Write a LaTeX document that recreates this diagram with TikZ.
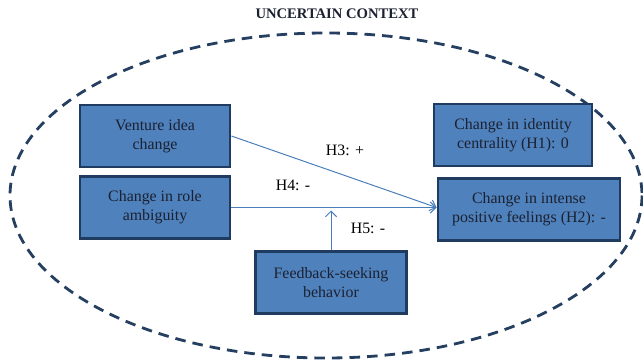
\documentclass[tikz,border=0pt]{standalone}
\usepackage{fontspec}
\setmainfont{Liberation Serif}
\usetikzlibrary{positioning,calc,arrows.meta}
\definecolor{boxblue}{HTML}{4F81BD}
\definecolor{boxedge}{HTML}{1F3B5F}
\definecolor{linkblue}{HTML}{4A7EBB}
\definecolor{ctxnavy}{HTML}{243F60}
\definecolor{ink}{HTML}{1B2130}

\begin{document}
\begin{tikzpicture}[x=0.025cm,y=-0.025cm,font=\fontsize{11.3}{13.5}\selectfont,
  box/.style={draw=boxedge,fill=boxblue,line width=2pt,text=ink,align=center,inner sep=0pt,minimum height=1.55cm},
  link/.style={linkblue,line width=0.7pt,-{Straight Barb[length=4pt,width=8pt]}}]
  \useasboundingbox (0,0) rectangle (643,360);
  % context
  \node[font=\bfseries\fontsize{10.4}{12}\selectfont,text=ink] (title) at (337,14) {UNCERTAIN CONTEXT};
  \draw[ctxnavy,line width=2pt,dash pattern=on 7.5pt off 5pt] (326,195.5) ellipse [x radius=316, y radius=162.5];
  % predictors
  \node[box,minimum width=3.75cm] (venture) at (155,136) {Venture idea\\change};
  \node[box,minimum width=3.75cm] (role) at (155,207.5) {Change in role\\ambiguity};
  \node[box,minimum width=3.78cm] (feedback) at (331,282.5) {Feedback-seeking\\behavior};
  % outcomes
  \node[box,minimum width=3.95cm] (identity) at (513,135) {Change in identity\\centrality (H1): 0};
  \node[box,minimum width=4.55cm] (feelings) at (529,209.5) {Change in intense\\positive feelings (H2): -};
  % hypotheses
  \coordinate (hit) at (role.east -| feelings.west);
  \draw[link] (venture.east) -- (hit);
  \draw[link] (role.east) -- (hit);
  \draw[link] (feedback.north) -- ($(feedback.north |- role.east)+(0,3)$);
  \node (h3) at (345,150) {H3: +};
  \node (h4) at (293,185) {H4: -};
  \node (h5) at (368,228) {H5: -};
\end{tikzpicture}
\end{document}
